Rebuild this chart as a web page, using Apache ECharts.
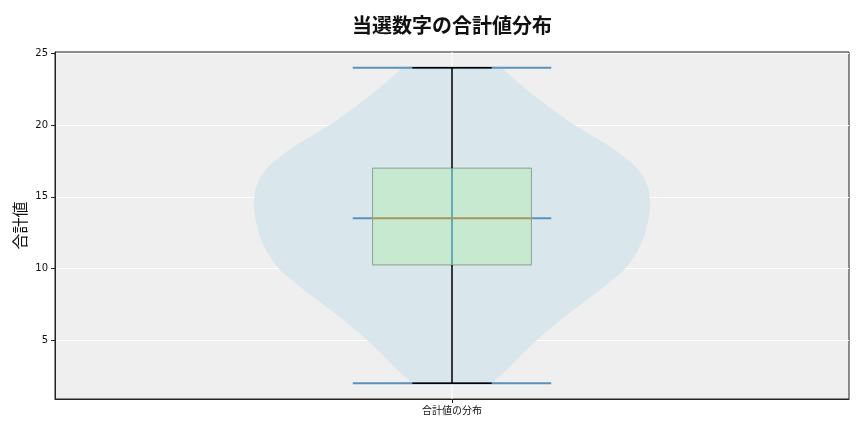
<!DOCTYPE html>
<html><head><meta charset="utf-8">
<script src="https://cdn.jsdelivr.net/npm/echarts@6/dist/echarts.min.js"></script>
<style>html,body{margin:0;padding:0;background:#fff}#c{width:864px;height:432px}</style>
</head><body><div id="c"></div>
<script>
const categories = ['合計値の分布'];
const yTicks = [5, 10, 15, 20, 25];
// violin outline: value -> relative half width (1 = widest)
const violinValues = [2, 3, 4.15, 5.3, 6.46, 7.62, 8.77, 9.93, 11.1, 12.25, 13.4, 14.45, 15.6, 16.53, 17.45, 18.38, 19.31, 20.23, 21.16, 22.09, 23.0, 24];
const violinWidths = [0.20, 0.28, 0.36, 0.45, 0.55, 0.66, 0.77, 0.87, 0.93, 0.97, 0.99, 1.0, 0.99, 0.96, 0.90, 0.81, 0.70, 0.59, 0.50, 0.41, 0.33, 0.25];
// box statistics
const boxMin = [2];
const boxQ1 = [10.25];
const boxMedian = [13.5];
const boxQ3 = [17];
const boxMax = [24];

const chart = echarts.init(document.getElementById('c'));
const FONT = '"Noto Sans CJK JP", "DejaVu Sans", sans-serif';

function renderItem(params, api) {
  const idx = api.value(0);
  const c = api.coord([idx, boxMedian[idx]]);
  const cx = c[0];
  const bw = api.size([1, 0])[0];
  const y = v => api.coord([idx, v])[1];
  const kids = [];
  kids.push({type:'line', shape:{x1:cx, y1:params.coordSys.y, x2:cx, y2:params.coordSys.y+params.coordSys.height}, style:{stroke:'#ffffff', lineWidth:1}});
  const left = [], right = [];
  for (let i = 0; i < violinValues.length; i++) {
    const hw = violinWidths[i] * 0.25 * bw;
    const yy = y(violinValues[i]);
    left.push([cx - hw, yy]);
    right.push([cx + hw, yy]);
  }
  const pts = left.concat(right.reverse());
  kids.push({type:'polygon', shape:{points:pts}, style:{fill:'#d9e6eb'}});
  const blue = '#5b92bd';
  const ext = 0.125 * bw;
  [boxMin[idx], boxMax[idx], boxMedian[idx]].forEach(v => {
    kids.push({type:'line', shape:{x1:cx-ext, y1:y(v), x2:cx+ext, y2:y(v)}, style:{stroke:blue, lineWidth:2}});
  });
  const bh = 0.1 * bw;
  kids.push({type:'rect', shape:{x:cx-bh, y:y(boxQ3[idx]), width:2*bh, height:y(boxQ1[idx])-y(boxQ3[idx])},
    style:{fill:'#c6e9d0', stroke:'#8d9f93', lineWidth:1}});
  kids.push({type:'line', shape:{x1:cx, y1:y(boxQ3[idx]), x2:cx, y2:y(boxQ1[idx])}, style:{stroke:'#62acb9', lineWidth:2}});
  kids.push({type:'line', shape:{x1:cx-bh, y1:y(boxMedian[idx]), x2:cx+bh, y2:y(boxMedian[idx])}, style:{stroke:'#a9955a', lineWidth:2}});
  kids.push({type:'line', shape:{x1:cx, y1:y(boxMax[idx]), x2:cx, y2:y(boxQ3[idx])}, style:{stroke:'#000', lineWidth:1.5}});
  kids.push({type:'line', shape:{x1:cx, y1:y(boxQ1[idx]), x2:cx, y2:y(boxMin[idx])}, style:{stroke:'#000', lineWidth:1.5}});
  const cap = 0.05 * bw;
  [boxMin[idx], boxMax[idx]].forEach(v => {
    kids.push({type:'line', shape:{x1:cx-cap, y1:y(v), x2:cx+cap, y2:y(v)}, style:{stroke:'#000', lineWidth:1.5}});
  });
  return {type:'group', children:kids};
}

chart.setOption({
  animation: false,
  title: {
    text: '当選数字の合計値分布', left: 447, top: 10, textAlign: 'center',
    textStyle: {fontFamily: FONT, fontSize: 20, fontWeight: 'bold', color: '#111'}
  },
  grid: {left: 55, right: 15, top: 52, bottom: 33, show: true, backgroundColor: '#efefef', borderColor: '#222', borderWidth: 1},
  xAxis: {
    type: 'category', data: categories, boundaryGap: true,
    axisLine: {show: true, lineStyle: {color: '#222'}},
    axisTick: {show: true, alignWithLabel: true, length: 4, lineStyle: {color: '#222'}},
    axisLabel: {fontFamily: FONT, fontSize: 10, color: '#111', margin: 6},
    splitLine: {show: false}
  },
  yAxis: {
    type: 'value', min: 0.9, max: 25.1,
    name: '合計値', nameLocation: 'middle', nameGap: 27, nameMoveOverlap: false,
    nameTextStyle: {fontFamily: FONT, fontSize: 16, color: '#111'},
    axisLine: {show: true, lineStyle: {color: '#222'}},
    axisTick: {show: true, length: 4, customValues: yTicks, lineStyle: {color: '#222'}},
    axisLabel: {fontFamily: '"DejaVu Sans", sans-serif', fontSize: 10, color: '#111', margin: 7, customValues: yTicks},
    splitLine: {show: true, lineStyle: {color: '#ffffff', width: 1}}
  },
  series: [{
    type: 'custom', renderItem: renderItem, data: [[0]], encode: {x: 0, y: -1}, clip: true
  }]
});
</script></body></html>
